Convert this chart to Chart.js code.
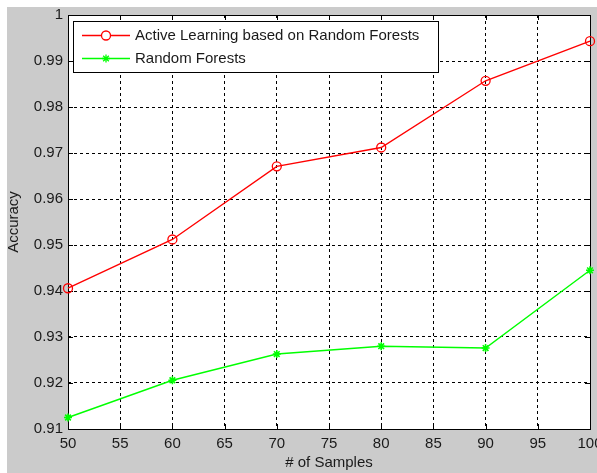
<!DOCTYPE html>
<html>
<head>
<meta charset="utf-8">
<script src="https://cdn.jsdelivr.net/npm/chart.js@4.4.1/dist/chart.umd.min.js"></script>
<style>
  html, body { margin: 0; padding: 0; background: #fff; overflow: hidden; width: 597px; height: 473px; }
  .figBg { position: absolute; left: 7px; top: 7px; width: 590px; height: 466px; background: #cbcbcb; }
  #acc { position: absolute; left: 0; top: 0; }
</style>
</head>
<body>
<div class="figBg"></div>
<canvas id="acc" width="620" height="473"></canvas>
<script>
// data
const samples = [50, 60, 70, 80, 90, 100];
const activeRF = [0.9406, 0.9512, 0.9671, 0.9712, 0.9857, 0.9943];
const plainRF = [0.9125, 0.9206, 0.9263, 0.9280, 0.9276, 0.9445];
const seriesNames = ['Active Learning based on Random Forests', 'Random Forests'];
const xTicks = [50, 55, 60, 65, 70, 75, 80, 85, 90, 95, 100];
const yTicks = [0.91, 0.92, 0.93, 0.94, 0.95, 0.96, 0.97, 0.98, 0.99, 1];

const FONT = 'Liberation Sans, Arial, sans-serif';
const TXT = '#1a1a1a';

const toPoints = function (ys) {
  return samples.map(function (x, i) { return {x: x, y: ys[i]}; });
};

// matlab style box, inward ticks, legend
const matlabBox = {
  id: 'matlabBox',
  beforeDraw(chart) {
    const ctx = chart.ctx, a = chart.chartArea;
    ctx.save();
    ctx.fillStyle = '#fff';
    ctx.fillRect(a.left, a.top, a.right - a.left, a.bottom - a.top);
    ctx.restore();
  },
  beforeDatasetsDraw(chart) {
    const ctx = chart.ctx, a = chart.chartArea;
    const xs = chart.scales.x, ys = chart.scales.y;
    ctx.save();
    ctx.strokeStyle = '#000';
    ctx.lineWidth = 1;
    ctx.setLineDash([]);
    ctx.beginPath();
    xTicks.forEach(function (v) {
      const px = Math.round(xs.getPixelForValue(v)) + 0.5;
      ctx.moveTo(px, a.bottom); ctx.lineTo(px, a.bottom - 5);
      ctx.moveTo(px, a.top); ctx.lineTo(px, a.top + 5);
    });
    yTicks.forEach(function (v) {
      const py = Math.round(ys.getPixelForValue(v)) + 0.5;
      ctx.moveTo(a.left, py); ctx.lineTo(a.left + 5, py);
      ctx.moveTo(a.right, py); ctx.lineTo(a.right - 5, py);
    });
    ctx.stroke();
    ctx.strokeRect(Math.round(a.left) + 0.5, Math.round(a.top) + 0.5,
      Math.round(a.right - a.left), Math.round(a.bottom - a.top));
    ctx.restore();
  },
  afterDraw(chart) {
    const ctx = chart.ctx;
    const bx = 73, by = 21, bw = 365, bh = 51;
    ctx.save();
    ctx.fillStyle = '#fff';
    ctx.fillRect(bx, by, bw, bh);
    ctx.strokeStyle = '#000';
    ctx.lineWidth = 1;
    ctx.strokeRect(bx + 0.5, by + 0.5, bw, bh);
    chart.data.datasets.forEach(function (ds, i) {
      const ly = 35 + i * 23;
      ctx.strokeStyle = ds.borderColor;
      ctx.lineWidth = 1.3;
      ctx.beginPath();
      ctx.moveTo(82, ly + 0.5); ctx.lineTo(130, ly + 0.5);
      ctx.stroke();
      Chart.helpers.drawPoint(ctx, {
        pointStyle: ds.pointStyle, radius: ds.pointRadius, rotation: 0,
        borderWidth: ds.pointBorderWidth
      }, 106, ly + 0.5);
      ctx.fillStyle = TXT;
      ctx.font = '15px ' + FONT;
      ctx.textBaseline = 'middle';
      ctx.fillText(ds.label, 135, ly + 1);
    });
    ctx.restore();
  }
};

new Chart(document.getElementById('acc'), {
  type: 'line',
  data: {
    datasets: [{
      label: seriesNames[0],
      data: toPoints(activeRF),
      borderColor: '#ff0000',
      backgroundColor: 'rgba(0,0,0,0)',
      borderWidth: 1.4,
      pointStyle: 'circle',
      pointRadius: 4.5,
      pointBorderWidth: 1.3,
      pointBorderColor: '#ff0000',
      pointBackgroundColor: 'rgba(0,0,0,0)',
      tension: 0
    }, {
      label: seriesNames[1],
      data: toPoints(plainRF),
      borderColor: '#00ff00',
      backgroundColor: 'rgba(0,0,0,0)',
      borderWidth: 1.4,
      pointStyle: 'star',
      pointRadius: 4,
      pointBorderWidth: 1.6,
      pointBorderColor: '#00ff00',
      pointBackgroundColor: '#00ff00',
      tension: 0
    }]
  },
  options: {
    responsive: false,
    animation: false,
    clip: false,
    layout: { padding: { left: 0, top: 15, right: 30, bottom: 0 } },
    plugins: { legend: { display: false }, tooltip: { enabled: false } },
    scales: {
      x: {
        type: 'linear',
        min: 50, max: 100,
        afterBuildTicks: function (s) { s.ticks = xTicks.map(function (v) { return {value: v}; }); },
        afterFit: function (s) { s.height = 44; },
        grid: { color: '#000', lineWidth: 1, drawTicks: false },
        border: { display: false, dash: [3, 3] },
        ticks: { color: TXT, font: { family: FONT, size: 15 }, padding: 6, maxRotation: 0, autoSkip: false },
        title: { display: true, text: '# of Samples', color: TXT, font: { family: FONT, size: 15 }, padding: { top: 0, bottom: 1 } }
      },
      y: {
        min: 0.91, max: 1,
        afterBuildTicks: function (s) { s.ticks = yTicks.map(function (v) { return {value: v}; }); },
        afterFit: function (s) { s.width = 68; },
        grid: { color: '#000', lineWidth: 1, drawTicks: false },
        border: { display: false, dash: [3, 3] },
        ticks: {
          color: TXT, font: { family: FONT, size: 15 }, padding: 5, autoSkip: false,
          callback: function (v) { return String(Math.round(v * 100) / 100); }
        },
        title: { display: true, text: 'Accuracy', color: TXT, font: { family: FONT, size: 15 }, padding: { top: 5, bottom: 0 } }
      }
    }
  },
  plugins: [matlabBox]
});
</script>
</body>
</html>
